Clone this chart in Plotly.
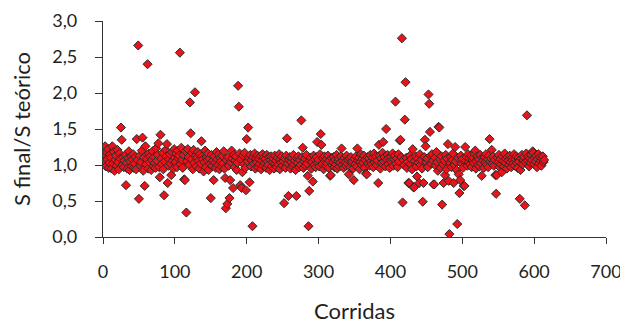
import plotly.graph_objects as go

# Ratio S final / S teórico for each run (corrida)
ratio = [
    1.12, 1.05, 1.26, 0.98, 1.18, 1.08, 1.22, 0.96, 1.03, 1.15,
    1.10, 0.95, 1.26, 1.02, 1.18, 0.92, 1.07, 1.13, 0.99, 1.21,
    1.04, 0.94, 1.16, 1.09, 1.52, 1.35, 1.00, 1.11, 0.97, 1.06,
    1.14, 0.72, 1.03, 0.95, 1.10, 1.19, 0.93, 1.05, 1.12, 0.98,
    1.08, 1.15, 0.96, 1.02, 1.11, 0.94, 1.36, 1.07, 2.66, 0.53,
    1.13, 0.99, 1.04, 1.20, 1.38, 0.92, 1.10, 0.71, 1.26, 1.01,
    1.08, 2.40, 0.95, 1.16, 1.04, 1.12, 0.93, 1.07, 1.19, 0.98,
    1.11, 1.03, 0.96, 1.23, 1.06, 1.14, 1.30, 0.97, 0.83, 1.42,
    1.09, 1.01, 1.17, 0.94, 0.58, 1.05, 1.21, 1.12, 1.29, 0.75,
    0.99, 1.08, 1.15, 1.02, 0.86, 1.18, 1.06, 0.95, 1.22, 1.10,
    1.04, 1.16, 0.97, 1.20, 1.09, 1.13, 2.56, 1.01, 1.24, 1.07,
    0.96, 1.14, 0.80, 0.79, 1.19, 0.34, 1.05, 1.22, 1.11, 1.00,
    1.87, 1.44, 1.08, 1.17, 0.94, 1.21, 1.03, 2.01, 1.13, 0.98,
    1.10, 1.18, 1.06, 0.95, 1.15, 1.02, 1.33, 1.12, 1.08, 0.91,
    1.04, 1.20, 0.97, 1.11, 1.07, 1.16, 0.93, 1.09, 1.01, 0.54,
    1.14, 0.99, 1.06, 0.79, 1.12, 1.03, 0.96, 1.18, 1.08, 1.00,
    1.15, 0.94, 1.10, 1.05, 0.98, 1.13, 1.02, 1.19, 0.95, 0.82,
    0.40, 1.07, 0.46, 1.11, 0.99, 0.54, 0.79, 1.04, 1.20, 1.09,
    0.68, 1.14, 0.97, 1.06, 1.12, 0.93, 1.03, 2.10, 1.81, 1.16,
    0.72, 1.08, 0.68, 0.90, 1.13, 1.01, 1.17, 0.96, 0.65, 1.36,
    1.05, 1.52, 1.10, 0.76, 1.14, 0.98, 1.07, 0.15, 1.11, 1.02,
    1.16, 0.95, 1.09, 1.04, 1.13, 0.97, 1.08, 1.01, 1.12, 0.94,
    1.06, 1.15, 0.99, 1.10, 1.03, 1.08, 0.96, 1.14, 1.05, 1.00,
    1.11, 0.93, 1.07, 1.12, 0.98, 1.04, 1.09, 0.95, 1.13, 1.02,
    1.06, 0.97, 1.10, 1.01, 1.15, 0.94, 1.08, 1.03, 1.12, 0.99,
    1.05, 0.47, 1.09, 0.96, 1.13, 1.37, 1.02, 0.57, 1.07, 1.11,
    0.95, 1.04, 1.10, 0.98, 1.14, 1.01, 1.06, 0.93, 0.57, 1.09,
    1.03, 1.12, 0.97, 1.07, 1.00, 1.62, 1.11, 1.24, 0.96, 1.05,
    1.09, 0.99, 1.14, 1.02, 0.85, 0.15, 0.64, 1.06, 1.10, 0.95,
    1.04, 0.77, 1.13, 1.00, 1.08, 0.97, 1.11, 1.32, 1.03, 1.07,
    0.98, 1.15, 1.43, 1.28, 1.01, 1.09, 0.94, 1.12, 1.05, 0.99,
    1.08, 1.02, 1.13, 0.96, 1.06, 0.85, 0.86, 1.10, 1.00, 1.04,
    1.11, 0.97, 1.07, 1.01, 1.14, 0.95, 1.05, 1.09, 0.98, 1.03,
    1.12, 1.23, 1.00, 1.06, 0.96, 1.10, 1.04, 0.99, 1.13, 1.02,
    1.07, 0.87, 1.09, 0.97, 1.11, 1.03, 1.05, 0.95, 0.79, 1.08,
    1.01, 1.12, 0.98, 1.23, 1.06, 1.10, 0.94, 1.04, 1.15, 1.00,
    1.08, 1.03, 1.13, 0.96, 1.07, 0.88, 0.87, 1.11, 1.02, 1.09,
    0.99, 1.14, 1.05, 1.01, 1.10, 0.97, 1.16, 1.04, 1.08, 1.12,
    1.00, 1.06, 0.75, 1.28, 1.13, 0.95, 1.09, 1.03, 1.17, 1.32,
    1.05, 1.11, 0.98, 1.50, 1.07, 1.14, 1.01, 1.10, 0.96, 1.06,
    1.12, 1.04, 1.16, 0.99, 1.08, 1.13, 1.88, 1.02, 1.09, 0.97,
    1.15, 1.05, 1.34, 1.35, 1.11, 2.76, 0.48, 1.07, 1.00, 1.63,
    2.15, 1.10, 0.96, 1.04, 0.75, 0.75, 1.13, 1.01, 1.08, 0.94,
    1.22, 0.69, 0.69, 1.06, 1.12, 0.98, 0.84, 1.09, 1.03, 0.75,
    1.15, 1.00, 1.07, 0.95, 0.49, 0.75, 1.11, 1.35, 1.26, 1.04,
    1.09, 0.97, 1.98, 1.85, 1.46, 1.13, 1.02, 1.15, 1.06, 0.73,
    0.73, 1.10, 0.99, 1.18, 1.04, 0.92, 1.53, 1.52, 1.08, 0.96,
    1.12, 0.45, 1.01, 0.75, 1.06, 0.86, 1.14, 0.94, 1.09, 1.29,
    0.78, 0.04, 1.03, 1.11, 0.97, 1.07, 1.16, 0.75, 1.00, 1.25,
    1.05, 0.93, 0.18, 1.10, 0.87, 0.61, 0.79, 1.13, 1.02, 1.08,
    0.96, 0.71, 0.71, 1.25, 1.06, 1.11, 0.99, 1.15, 1.04, 1.09,
    1.01, 1.13, 0.97, 1.07, 1.10, 1.03, 1.16, 1.20, 0.95, 1.05,
    1.12, 1.00, 1.08, 0.98, 1.14, 1.03, 0.85, 1.10, 1.06, 0.96,
    1.11, 1.04, 1.15, 1.01, 1.08, 0.97, 1.13, 1.36, 1.05, 1.09,
    1.21, 1.02, 1.12, 0.99, 1.07, 0.86, 0.60, 0.86, 1.10, 1.04,
    1.14, 0.97, 1.08, 1.01, 0.90, 1.12, 1.05, 0.98, 1.16, 1.03,
    1.09, 0.95, 1.11, 1.06, 1.00, 1.13, 1.04, 0.97, 1.10, 1.07,
    1.02, 1.15, 0.99, 1.08, 1.12, 1.03, 0.96, 1.10, 1.05, 0.53,
    0.93, 1.09, 1.14, 1.01, 1.07, 1.11, 0.44, 1.04, 1.16, 1.69,
    1.06, 1.12, 0.98, 1.09, 1.03, 1.14, 1.07, 1.19, 1.17, 1.01,
    1.10, 1.05, 1.13, 0.97, 1.08, 1.15, 1.02, 1.11, 1.06, 0.99,
    1.09, 1.12, 1.04, 1.07,
]
corridas = list(range(1, len(ratio) + 1))

x_ticks = [0, 100, 200, 300, 400, 500, 600, 700]
y_ticks = [0.0, 0.5, 1.0, 1.5, 2.0, 2.5, 3.0]

FONT = "Lato, 'Open Sans', sans-serif"
AX = "#333333"

fig = go.Figure(
    go.Scatter(
        x=corridas,
        y=ratio,
        mode="markers",
        marker=dict(symbol="diamond", size=7, color="#e8141c",
                    line=dict(color="#2b2b2b", width=1)),
        hoverinfo="x+y",
    )
)

# the page body has an 8 px margin, so the figure is drawn at (8, 8)
fig.update_layout(
    width=620,
    height=316,
    margin=dict(l=95, r=22, t=13, b=87),
    paper_bgcolor="white",
    plot_bgcolor="white",
    separators=",.",
    showlegend=False,
    font=dict(family=FONT, size=18, color="#231f20"),
)

fig.update_xaxes(
    range=[0, 700],
    tickvals=x_ticks,
    ticks="outside",
    ticklen=6,
    tickwidth=1,
    tickcolor=AX,
    showline=True,
    linecolor=AX,
    linewidth=1.2,
    showgrid=False,
    zeroline=False,
    automargin=False,
    ticklabelstandoff=12,
    title=dict(text="Corridas", standoff=22),
)
fig.update_yaxes(
    range=[0, 3],
    tickvals=y_ticks,
    tickformat=".1f",
    ticks="outside",
    ticklen=7,
    tickwidth=1,
    tickcolor=AX,
    showline=True,
    linecolor=AX,
    linewidth=1.2,
    showgrid=False,
    zeroline=False,
    automargin=False,
    ticklabelstandoff=14,
    title=dict(text="S final/S teórico", standoff=17),
)

fig.write_html("out.html")
